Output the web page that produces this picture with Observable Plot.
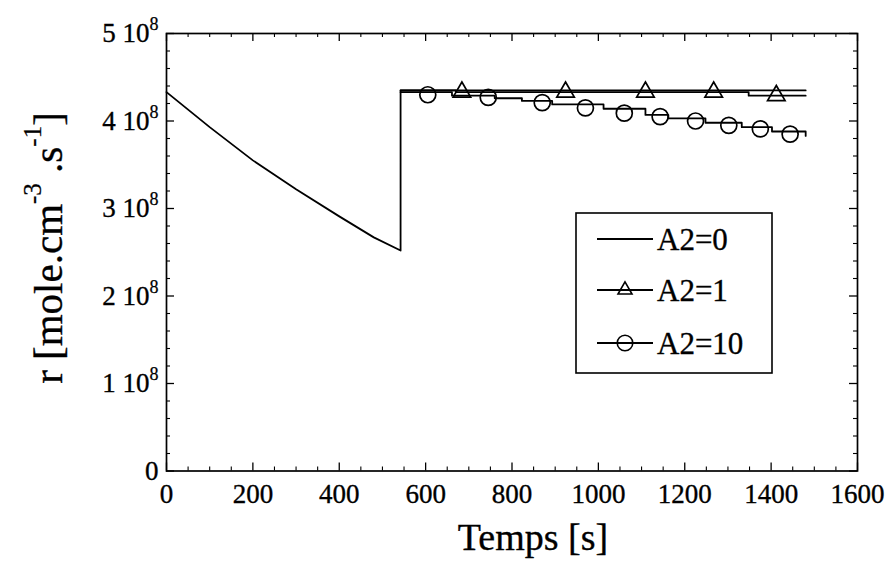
<!DOCTYPE html>
<html><head><meta charset="utf-8">
<script src="https://cdn.jsdelivr.net/npm/d3@7"></script>
<script src="https://cdn.jsdelivr.net/npm/@observablehq/plot@0.6"></script>
<style>html,body{margin:0;padding:0;background:#fff}svg{display:block}svg text{stroke:#000;stroke-width:0.35px}</style>
</head><body><div id="chart"></div>
<script>
// Values of r are in units of 10^8 mole.cm-3.s-1, time in s
const seriesNames = ["A2=0", "A2=1", "A2=10"];
const phase1T = [0, 100, 200, 300, 400, 480, 542];
const phase1R = [4.33, 3.93, 3.55, 3.22, 2.91, 2.67, 2.52];
const a0T = [542, 542, 1480];
const a0R = [2.52, 4.35, 4.35];
const a1T = [542, 670, 1348, 1480];
const a1R = [4.35, 4.33, 4.29, 4.29];
const a10T = [542, 661, 760, 823, 893, 1012, 1109, 1162, 1248, 1332, 1402, 1480];
const a10R = [4.33, 4.29, 4.26, 4.23, 4.19, 4.14, 4.07, 4.03, 3.98, 3.93, 3.88, 3.83];
const triT = [684, 924, 1109, 1267, 1412];
const triR = [4.33, 4.33, 4.33, 4.33, 4.29];
const cirT = [605, 745, 870, 970, 1060, 1143, 1225, 1302, 1375, 1444];
const cirR = [4.30, 4.27, 4.21, 4.15, 4.09, 4.05, 4.00, 3.95, 3.91, 3.85];
const xTicks = [0, 200, 400, 600, 800, 1000, 1200, 1400, 1600];
const yTicks = [0, 1, 2, 3, 4, 5];
const yTickExp = "8";
const xLabel = "Temps [s]";

const W = 885, H = 563, mL = 166, mR = 28, mT = 33, mB = 92.5;
const iw = W - mL - mR, ih = H - mT - mB;
const zip = (T, R) => T.map((t, i) => ({t, r: R[i]}));
const phase0 = zip(phase1T.concat(a0T), phase1R.concat(a0R));
const s1 = zip(a1T, a1R), s10 = zip(a10T, a10R);
const tri = zip(triT, triR), cir = zip(cirT, cirR);
const xMinor = d3.range(0, 1601, 50).filter(d => d % 200 !== 0);
const yMinor = d3.range(0, 5.001, 0.2).map(d => +d.toFixed(1)).filter(d => Math.abs(d - Math.round(d)) > 1e-6);

const ink = "#000";
const serif = '"Liberation Serif", "Times New Roman", serif';
const svg = Plot.plot({
  width: W, height: H,
  marginLeft: mL, marginRight: mR, marginTop: mT, marginBottom: mB,
  x: {domain: [0, 1600]},
  y: {domain: [0, 5]},
  style: {fontFamily: serif, fontSize: "27px", color: ink, background: "#fff"},
  marks: [
    // inward ticks on all four sides
    Plot.tickX(xTicks, {x: d => d, insetTop: ih - 8, stroke: ink, strokeWidth: 1.3}),
    Plot.tickX(xTicks, {x: d => d, insetBottom: ih - 8, stroke: ink, strokeWidth: 1.3}),
    Plot.tickX(xMinor, {x: d => d, insetTop: ih - 4, stroke: ink, strokeWidth: 1.1}),
    Plot.tickX(xMinor, {x: d => d, insetBottom: ih - 4, stroke: ink, strokeWidth: 1.1}),
    Plot.tickY(yTicks, {y: d => d, insetRight: iw - 8, stroke: ink, strokeWidth: 1.3}),
    Plot.tickY(yTicks, {y: d => d, insetLeft: iw - 8, stroke: ink, strokeWidth: 1.3}),
    Plot.tickY(yMinor, {y: d => d, insetRight: iw - 4, stroke: ink, strokeWidth: 1.1}),
    Plot.tickY(yMinor, {y: d => d, insetLeft: iw - 4, stroke: ink, strokeWidth: 1.1}),
    Plot.frame({stroke: ink, strokeWidth: 1.7}),
    Plot.axisX(xTicks, {tickSize: 0, tickPadding: 13, tickFormat: d => String(d), label: null}),
    Plot.axisY(yTicks, {tickSize: 0, tickPadding: 8, tickFormat: d => d === 0 ? "0" : `${d} 10`, label: null}),
    // series
    Plot.line(phase0, {x: "t", y: "r", stroke: ink, strokeWidth: 1.8}),
    Plot.line(s1, {x: "t", y: "r", curve: "step-after", stroke: ink, strokeWidth: 1.8}),
    Plot.line(s10, {x: "t", y: "r", curve: "step-after", stroke: ink, strokeWidth: 1.8}),
    Plot.dot(tri, {x: "t", y: "r", symbol: "triangle", r: 6.5, stroke: ink, strokeWidth: 1.7, fill: "none"}),
    Plot.dot(cir, {x: "t", y: "r", symbol: "circle", r: 8, stroke: ink, strokeWidth: 1.7, fill: "none"})
  ]
});
document.getElementById("chart").appendChild(svg);

const S = d3.select(svg);
// exponent on y tick labels
S.selectAll('g[aria-label="y-axis tick label"] text').each(function () {
  const t = d3.select(this);
  if (t.text() !== "0") {
    t.append("tspan").attr("dy", -12).attr("font-size", 18).attr("stroke-width", 0.25).text(yTickExp);
  }
});
// x label
S.append("text").attr("x", 533).attr("y", 550).attr("text-anchor", "middle")
  .attr("font-family", serif).attr("font-size", 38).attr("fill", ink).text(xLabel);
// y label with superscripts
const yl = S.append("text").attr("transform", "translate(62,248) rotate(-90)")
  .attr("text-anchor", "middle").attr("font-family", serif).attr("font-size", 41).attr("fill", ink);
yl.append("tspan").text("r [mole.cm");
yl.append("tspan").attr("dy", -21).attr("font-size", 25).attr("stroke-width", 0.25).text("-3");
yl.append("tspan").attr("dy", 21).text(" .s");
yl.append("tspan").attr("dy", -21).attr("font-size", 25).attr("stroke-width", 0.25).text("-1");
yl.append("tspan").attr("dy", 21).text("]");

// legend
const lg = S.append("g");
lg.append("rect").attr("x", 576).attr("y", 213).attr("width", 196).attr("height", 160)
  .attr("fill", "#fff").attr("stroke", ink).attr("stroke-width", 1.6);
const rows = [239, 290, 343];
const shapes = [null, d3.symbolTriangle, d3.symbolCircle];
seriesNames.forEach((name, i) => {
  const y = rows[i];
  lg.append("line").attr("x1", 597).attr("x2", 653).attr("y1", y).attr("y2", y)
    .attr("stroke", ink).attr("stroke-width", 1.8);
  if (shapes[i]) {
    lg.append("path").attr("transform", `translate(625,${y})`)
      .attr("d", d3.symbol(shapes[i], i === 1 ? 85 : 190)())
      .attr("fill", "none").attr("stroke", ink).attr("stroke-width", 1.6);
  }
  lg.append("text").attr("x", 657).attr("y", y).attr("dy", "0.35em").attr("text-anchor", "start")
    .attr("font-family", serif).attr("font-size", 31).attr("fill", ink).text(name);
});
</script>
</body></html>
